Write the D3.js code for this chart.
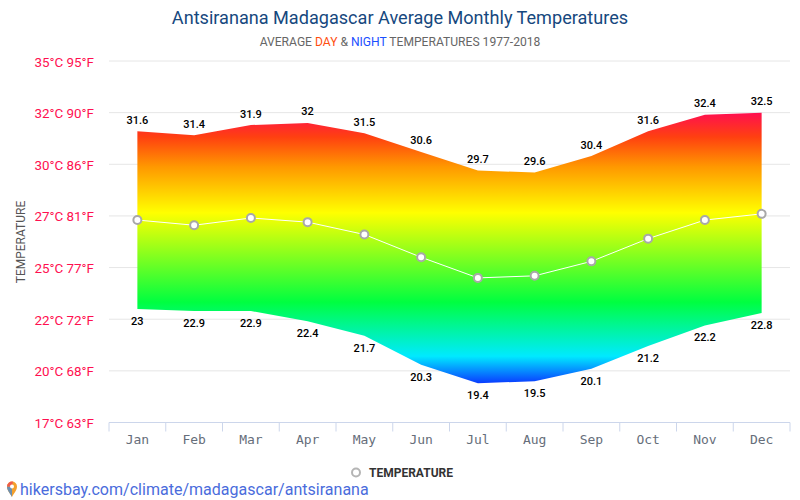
<!DOCTYPE html>
<html lang="en">
<head>
  <meta charset="UTF-8">
  <title>Antsiranana Madagascar Average Monthly Temperatures</title>
  <script src="https://d3js.org/d3.v7.min.js"></script>
  <style>
    html, body { margin: 0; background: #fff; overflow: hidden; }
    svg { display: block; font-family: Roboto, sans-serif; }
  </style>
</head>
<body>
  <div id="chart"></div>
  <script>
    const months = ['Jan', 'Feb', 'Mar', 'Apr', 'May', 'Jun', 'Jul', 'Aug', 'Sep', 'Oct', 'Nov', 'Dec']
    const dayTemps = [31.6, 31.4, 31.9, 32, 31.5, 30.6, 29.7, 29.6, 30.4, 31.6, 32.4, 32.5]
    const nightTemps = [23, 22.9, 22.9, 22.4, 21.7, 20.3, 19.4, 19.5, 20.1, 21.2, 22.2, 22.8]
    const avgTemps = [27.3, 27.05, 27.4, 27.2, 26.6, 25.5, 24.5, 24.6, 25.3, 26.4, 27.3, 27.6]
    const yTicks = [17.5, 20, 22.5, 25, 27.5, 30, 32.5, 35]
    const yTickLabels = ['17°C 63°F', '20°C 68°F', '22°C 72°F', '25°C 77°F', '27°C 81°F', '30°C 86°F', '32°C 90°F', '35°C 95°F']

    const width = 800
    const height = 500
    const plot = { left: 109, right: 790, top: 61, bottom: 422.5 }

    const svg = d3.select('#chart').append('svg')
      .attr('width', width)
      .attr('height', height)

    const x = d3.scaleBand().domain(months).range([plot.left, plot.right])
    const y = d3.scaleLinear().domain([17.5, 35]).range([plot.bottom, plot.top])
    const cx = m => x(m) + x.bandwidth() / 2

    // day/night band gradient, red at the top of the band down to blue
    const grad = svg.append('defs').append('linearGradient')
      .attr('id', 'tempGrad')
      .attr('x1', '0%').attr('x2', '0%')
      .attr('y1', '0%').attr('y2', '100%')
    const stops = [
      [0, '#ff0f50'],
      [0.09, '#ff4010'],
      [0.2, '#ff9800'],
      [0.37, '#ffff00'],
      [0.7, '#00ff40'],
      [0.9, '#00eaff'],
      [1, '#0a3cff'],
    ]
    grad.selectAll('stop').data(stops).enter().append('stop')
      .attr('offset', d => d[0])
      .attr('stop-color', d => d[1])

    // grid
    svg.append('g').selectAll('line').data(yTicks.slice(1)).enter().append('line')
      .attr('x1', plot.left).attr('x2', plot.right)
      .attr('y1', d => y(d)).attr('y2', d => y(d))
      .attr('stroke', '#e6e6e6')

    // y labels
    svg.append('g').selectAll('text').data(yTicks).enter().append('text')
      .attr('x', 94)
      .attr('y', d => y(d) + 5.5)
      .attr('text-anchor', 'end')
      .attr('fill', '#ff0f50')
      .style('font-size', '13.4px')
      .text((d, i) => yTickLabels[i])

    svg.append('text')
      .attr('transform', 'translate(25,242) rotate(-90)')
      .attr('text-anchor', 'middle')
      .attr('fill', '#555')
      .style('font-size', '12px')
      .text('TEMPERATURE')

    // x axis
    const xAxis = svg.append('g')
    xAxis.append('line')
      .attr('x1', plot.left).attr('x2', plot.right)
      .attr('y1', plot.bottom).attr('y2', plot.bottom)
      .attr('stroke', '#ccd6eb')
    xAxis.selectAll('.tick').data(months.concat(null)).enter().append('line')
      .attr('class', 'tick')
      .attr('x1', d => d ? x(d) : plot.right)
      .attr('x2', d => d ? x(d) : plot.right)
      .attr('y1', plot.bottom).attr('y2', plot.bottom + 9)
      .attr('stroke', '#ccd6eb')
    xAxis.selectAll('text').data(months).enter().append('text')
      .attr('x', cx)
      .attr('y', 444)
      .attr('text-anchor', 'middle')
      .attr('fill', '#666e7a')
      .style('font-family', '"DejaVu Sans Mono", monospace')
      .style('font-size', '13px')
      .text(d => d)

    // band
    const area = d3.area()
      .x((d, i) => cx(months[i]))
      .y0((d, i) => y(nightTemps[i]))
      .y1(d => y(d))
    svg.append('path')
      .attr('d', area(dayTemps))
      .attr('fill', 'url(#tempGrad)')

    // average line
    const line = d3.line().x((d, i) => cx(months[i])).y(d => y(d))
    svg.append('path')
      .attr('d', line(avgTemps))
      .attr('fill', 'none')
      .attr('stroke', '#fff')
      .attr('stroke-width', 1)
    svg.append('g').selectAll('circle').data(avgTemps).enter().append('circle')
      .attr('cx', (d, i) => cx(months[i]))
      .attr('cy', d => y(d))
      .attr('r', 4)
      .attr('fill', '#fff')
      .attr('stroke', '#a8a8a8')
      .attr('stroke-width', 2)

    // value labels
    const valueLabels = (values, dy, cls) => svg.append('g').selectAll('text').data(values).enter().append('text')
      .attr('class', cls)
      .attr('x', (d, i) => cx(months[i]))
      .attr('y', d => y(d) + dy)
      .attr('text-anchor', 'middle')
      .attr('fill', '#000')
      .style('font-size', '11px')
      .style('font-weight', 500)
      .text(d => d)
    valueLabels(dayTemps, -7.5, 'day')
    valueLabels(nightTemps, 16, 'night')

    // title
    svg.append('text')
      .attr('x', 400).attr('y', 24)
      .attr('text-anchor', 'middle')
      .attr('fill', '#16487e')
      .style('font-size', '18.1px')
      .text('Antsiranana Madagascar Average Monthly Temperatures')

    const sub = svg.append('text')
      .attr('x', 400).attr('y', 46)
      .attr('text-anchor', 'middle')
      .attr('fill', '#666')
      .style('font-size', '12.1px')
    sub.append('tspan').text('AVERAGE ')
    sub.append('tspan').attr('fill', '#ff4f10').text('DAY')
    sub.append('tspan').text(' & ')
    sub.append('tspan').attr('fill', '#1a4fff').text('NIGHT')
    sub.append('tspan').text(' TEMPERATURES 1977-2018')

    // legend
    svg.append('circle')
      .attr('cx', 356).attr('cy', 472.5).attr('r', 4)
      .attr('fill', '#fff').attr('stroke', '#b5b5b5').attr('stroke-width', 2)
    svg.append('text')
      .attr('x', 369).attr('y', 476.5)
      .attr('fill', '#333')
      .style('font-size', '12px')
      .style('font-weight', 700)
      .text('TEMPERATURE')

    // source link with pin
    const pin = svg.append('g').attr('transform', 'translate(12,488)')
    pin.append('path')
      .attr('d', 'M0,9 C-2,5 -5,2.5 -5,-1.5 A5,5 0 0 1 5,-1.5 C5,2.5 2,5 0,9 Z')
      .attr('fill', '#f4a02c')
    pin.append('path')
      .attr('d', 'M0,9 C-2,5 -5,2.5 -5,-1.5 L0,-1.5 Z')
      .attr('fill', '#6c8fb0')
    pin.append('path')
      .attr('d', 'M-5,-1.5 A5,5 0 0 1 1,-6.4 L0,-1.5 Z')
      .attr('fill', '#ef5a4c')
    pin.append('circle').attr('cy', -1.5).attr('r', 2).attr('fill', '#fff')

    svg.append('text')
      .attr('x', 20).attr('y', 495)
      .attr('fill', '#4a6cdc')
      .style('font-size', '16.05px')
      .text('hikersbay.com/climate/madagascar/antsiranana')
  </script>
</body>
</html>
